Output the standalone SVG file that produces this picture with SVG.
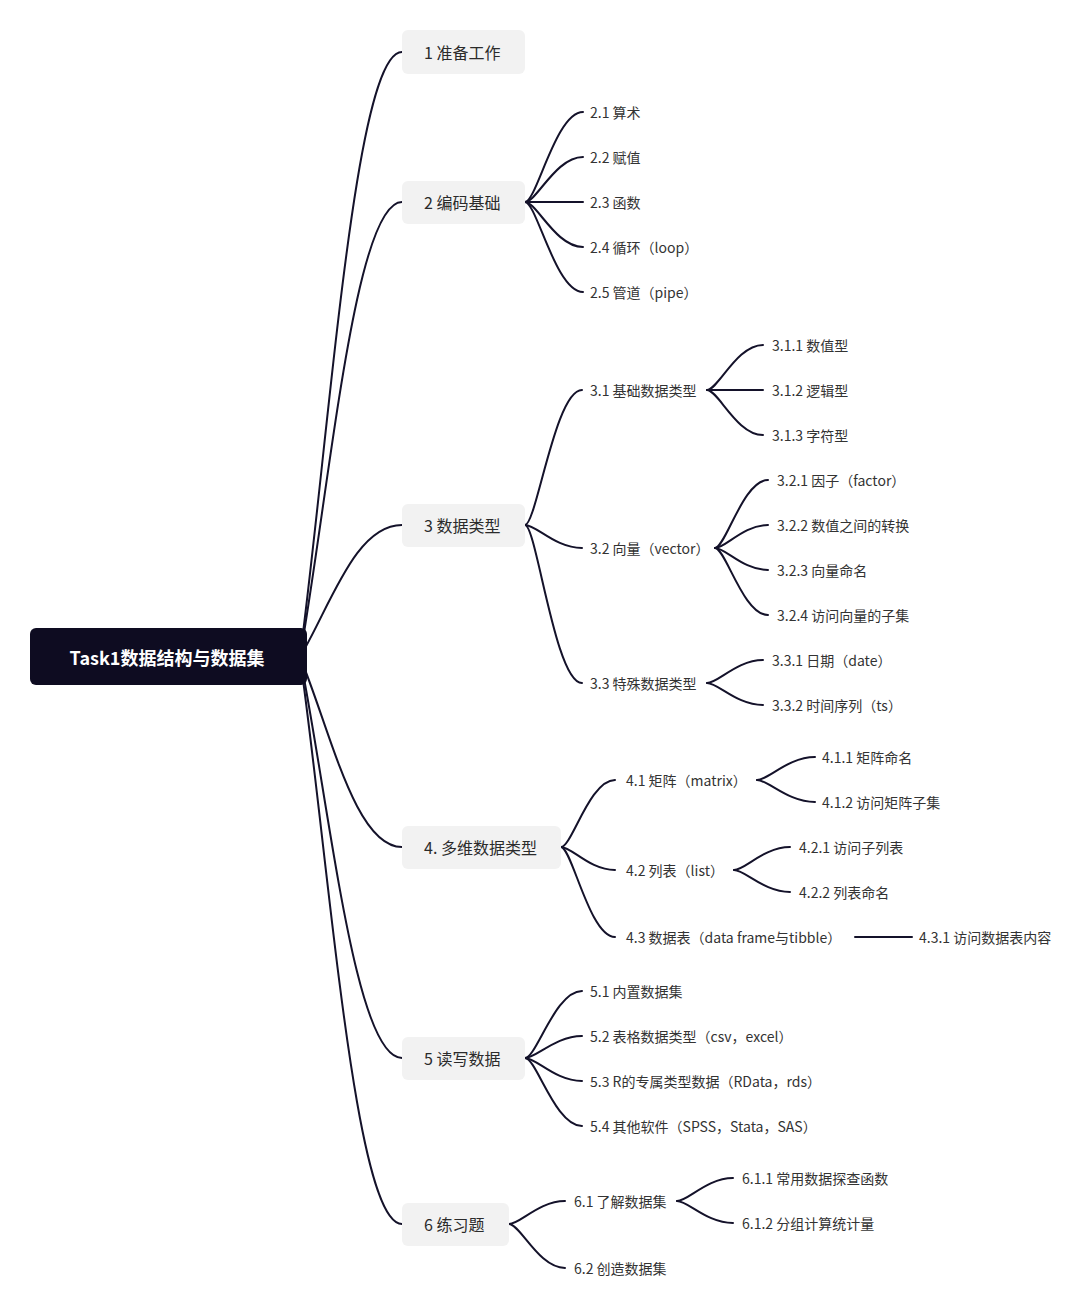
<svg xmlns="http://www.w3.org/2000/svg" width="1092" height="1314" viewBox="0 0 1092 1314">
<style>
.bg{fill:#ffffff}
.ln{fill:none;stroke:#14122a;stroke-width:2;stroke-linecap:round}
.root{fill:#0e0c21}
.rt{fill:#ffffff;font-family:"Noto Sans CJK SC","Noto Sans",sans-serif;font-size:18px;font-weight:bold;text-anchor:middle;dominant-baseline:central}
.l1{fill:#f2f2f2}
.t1{fill:#2b2b2b;font-family:"Noto Sans CJK SC","Noto Sans",sans-serif;font-size:16px;dominant-baseline:central}
.t2{fill:#333333;font-family:"Noto Sans CJK SC","Noto Sans",sans-serif;font-size:14px;dominant-baseline:central}
</style>
<rect class="bg" x="0" y="0" width="1092" height="1314"/>
<g id="connectors">
<path class="ln" d="M300,657 C330.6,421 355.1,52 402,52"/>
<path class="ln" d="M300,657 C330.6,479.5 355.1,202 402,202"/>
<path class="ln" d="M300,657 C330.6,605.5 355.1,525 402,525"/>
<path class="ln" d="M300,657 C330.6,731 355.1,847 402,847"/>
<path class="ln" d="M300,657 C330.6,813.4 355.1,1058 402,1058"/>
<path class="ln" d="M300,657 C330.6,878 355.1,1224 402,1224"/>
<path class="ln" d="M525,202 C536.6,202 555.7,112 583,112"/>
<path class="ln" d="M525,202 C536.6,202 555.7,157 583,157"/>
<path class="ln" d="M525,202 L583,202"/>
<path class="ln" d="M525,202 C536.6,202 555.7,247 583,247"/>
<path class="ln" d="M525,202 C536.6,202 555.7,292 583,292"/>
<path class="ln" d="M525,525 C536.4,525 555.2,390 582,390"/>
<path class="ln" d="M525,525 C536.4,525 555.2,548 582,548"/>
<path class="ln" d="M525,525 C536.4,525 555.2,683 582,683"/>
<path class="ln" d="M707,390 C718.2,390 736.7,345 763,345"/>
<path class="ln" d="M707,390 L763,390"/>
<path class="ln" d="M707,390 C718.2,390 736.7,435 763,435"/>
<path class="ln" d="M715,548 C725.6,548 743.1,480 768,480"/>
<path class="ln" d="M715,548 C725.6,548 743.1,525 768,525"/>
<path class="ln" d="M715,548 C725.6,548 743.1,570 768,570"/>
<path class="ln" d="M715,548 C725.6,548 743.1,615 768,615"/>
<path class="ln" d="M707,683 C718.2,683 736.7,660 763,660"/>
<path class="ln" d="M707,683 C718.2,683 736.7,705 763,705"/>
<path class="ln" d="M561,847 C571.8,847 589.6,780 615,780"/>
<path class="ln" d="M561,847 C571.8,847 589.6,870 615,870"/>
<path class="ln" d="M561,847 C571.8,847 589.6,937 615,937"/>
<path class="ln" d="M757,780 C768.6,780 787.7,757 815,757"/>
<path class="ln" d="M757,780 C768.6,780 787.7,802 815,802"/>
<path class="ln" d="M734,870 C745.2,870 763.7,847 790,847"/>
<path class="ln" d="M734,870 C745.2,870 763.7,892 790,892"/>
<path class="ln" d="M855,937 L912,937"/>
<path class="ln" d="M525,1058 C536.4,1058 555.2,991 582,991"/>
<path class="ln" d="M525,1058 C536.4,1058 555.2,1036 582,1036"/>
<path class="ln" d="M525,1058 C536.4,1058 555.2,1081 582,1081"/>
<path class="ln" d="M525,1058 C536.4,1058 555.2,1126 582,1126"/>
<path class="ln" d="M509,1224 C520.2,1224 538.7,1201 565,1201"/>
<path class="ln" d="M509,1224 C520.2,1224 538.7,1268 565,1268"/>
<path class="ln" d="M677,1201 C688.2,1201 706.7,1178 733,1178"/>
<path class="ln" d="M677,1201 C688.2,1201 706.7,1223 733,1223"/>
</g>
<g id="root"><rect class="root" x="30" y="628" width="277" height="57" rx="6"/><text class="rt" x="167" y="656.5">Task1数据结构与数据集</text></g>
<g id="n1"><rect class="l1" x="402" y="30" width="123" height="44" rx="6"/><text class="t1" x="424" y="52">1 准备工作</text></g>
<g id="n2"><rect class="l1" x="402" y="181" width="123" height="43" rx="6"/><text class="t1" x="424" y="202">2 编码基础</text></g>
<g id="n2_1"><text class="t2" x="590" y="112">2.1 算术</text></g>
<g id="n2_2"><text class="t2" x="590" y="157">2.2 赋值</text></g>
<g id="n2_3"><text class="t2" x="590" y="202">2.3 函数</text></g>
<g id="n2_4"><text class="t2" x="590" y="247">2.4 循环（loop）</text></g>
<g id="n2_5"><text class="t2" x="590" y="292">2.5 管道（pipe）</text></g>
<g id="n3"><rect class="l1" x="402" y="504" width="123" height="43" rx="6"/><text class="t1" x="424" y="525">3 数据类型</text></g>
<g id="n3_1"><text class="t2" x="590" y="390">3.1 基础数据类型</text></g>
<g id="n3_1_1"><text class="t2" x="772" y="345">3.1.1 数值型</text></g>
<g id="n3_1_2"><text class="t2" x="772" y="390">3.1.2 逻辑型</text></g>
<g id="n3_1_3"><text class="t2" x="772" y="435">3.1.3 字符型</text></g>
<g id="n3_2"><text class="t2" x="590" y="548">3.2 向量（vector）</text></g>
<g id="n3_2_1"><text class="t2" x="777" y="480">3.2.1 因子（factor）</text></g>
<g id="n3_2_2"><text class="t2" x="777" y="525">3.2.2 数值之间的转换</text></g>
<g id="n3_2_3"><text class="t2" x="777" y="570">3.2.3 向量命名</text></g>
<g id="n3_2_4"><text class="t2" x="777" y="615">3.2.4 访问向量的子集</text></g>
<g id="n3_3"><text class="t2" x="590" y="683">3.3 特殊数据类型</text></g>
<g id="n3_3_1"><text class="t2" x="772" y="660">3.3.1 日期（date）</text></g>
<g id="n3_3_2"><text class="t2" x="772" y="705">3.3.2 时间序列（ts）</text></g>
<g id="n4"><rect class="l1" x="402" y="826" width="159" height="43" rx="6"/><text class="t1" x="424" y="847">4. 多维数据类型</text></g>
<g id="n4_1"><text class="t2" x="626" y="780">4.1 矩阵（matrix）</text></g>
<g id="n4_1_1"><text class="t2" x="822" y="757">4.1.1 矩阵命名</text></g>
<g id="n4_1_2"><text class="t2" x="822" y="802">4.1.2 访问矩阵子集</text></g>
<g id="n4_2"><text class="t2" x="626" y="870">4.2 列表（list）</text></g>
<g id="n4_2_1"><text class="t2" x="799" y="847">4.2.1 访问子列表</text></g>
<g id="n4_2_2"><text class="t2" x="799" y="892">4.2.2 列表命名</text></g>
<g id="n4_3"><text class="t2" x="626" y="937">4.3 数据表（data frame与tibble）</text></g>
<g id="n4_3_1"><text class="t2" x="919" y="937">4.3.1 访问数据表内容</text></g>
<g id="n5"><rect class="l1" x="402" y="1037" width="123" height="43" rx="6"/><text class="t1" x="424" y="1058">5 读写数据</text></g>
<g id="n5_1"><text class="t2" x="590" y="991">5.1 内置数据集</text></g>
<g id="n5_2"><text class="t2" x="590" y="1036">5.2 表格数据类型（csv，excel）</text></g>
<g id="n5_3"><text class="t2" x="590" y="1081">5.3 R的专属类型数据（RData，rds）</text></g>
<g id="n5_4"><text class="t2" x="590" y="1126">5.4 其他软件（SPSS，Stata，SAS）</text></g>
<g id="n6"><rect class="l1" x="402" y="1203" width="107" height="43" rx="6"/><text class="t1" x="424" y="1224">6 练习题</text></g>
<g id="n6_1"><text class="t2" x="574" y="1201">6.1 了解数据集</text></g>
<g id="n6_1_1"><text class="t2" x="742" y="1178">6.1.1 常用数据探查函数</text></g>
<g id="n6_1_2"><text class="t2" x="742" y="1223">6.1.2 分组计算统计量</text></g>
<g id="n6_2"><text class="t2" x="574" y="1268">6.2 创造数据集</text></g>
</svg>
